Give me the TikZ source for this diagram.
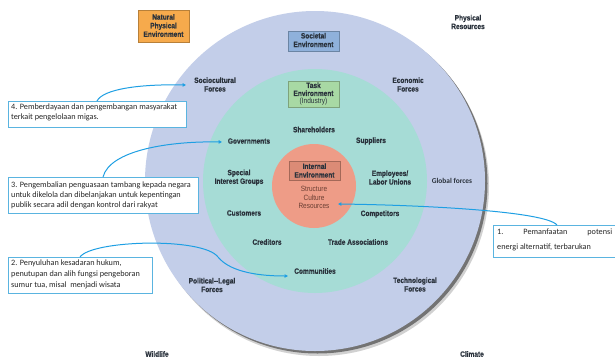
\documentclass[tikz,border=0pt]{standalone}
\usepackage{fontspec}
\usetikzlibrary{shadows,arrows.meta}
\newfontfamily\lblfont[FakeStretch=0.85,FakeBold=0.6]{Liberation Sans Bold}
\newfontfamily\lblreg[FakeStretch=0.85]{Liberation Sans}
\newfontfamily\calfont{Carlito}
\definecolor{outerc}{HTML}{C3CEE9}
\definecolor{tealc}{HTML}{A6DCD6}
\definecolor{salmonc}{HTML}{EE9C87}
\definecolor{orangec}{HTML}{F6AA4C}
\definecolor{societalc}{HTML}{8FB1DB}
\definecolor{taskc}{HTML}{A8D9A4}
\definecolor{internalc}{HTML}{DB8B76}
\definecolor{labelc}{HTML}{2A323C}
\definecolor{calloutc}{HTML}{5AB4E0}
\definecolor{arrowc}{HTML}{1E9FE3}
\definecolor{brownc}{HTML}{6A3E32}
\tikzset{
  lbl/.style={font=\lblfont\fontsize{7.7}{8.6}\selectfont, text=labelc, align=center, inner sep=0pt},
  plain/.style={font=\lblreg\fontsize{7.6}{8.6}\selectfont, text=brownc, align=center, inner sep=0pt},
  envbox/.style={draw=#1!75!black, fill=#1, line width=0.6pt, drop shadow={shadow xshift=1.2pt, shadow yshift=-1.2pt, opacity=0.45}},
  callout/.style={draw=calloutc, fill=white, line width=0.8pt},
  ctext/.style={font=\calfont\fontsize{8.2}{10}\selectfont, text=black!85, align=left, inner sep=0pt, anchor=north west},
  carrow/.style={draw=arrowc, line width=1pt, -{Triangle[length=3.4pt,width=3.4pt]}},
}
\begin{document}
\begin{tikzpicture}[x=1pt,y=-1pt]
\useasboundingbox (0,0) rectangle (615,362);
\fill[white] (0,0) rectangle (615,362);
% shadow of outer circle
\fill[black!18] (319,186) circle (170);
\fill[black!55] (317.5,183.5) circle (170);
% circles
\fill[outerc] (315,181) circle (170);
\fill[tealc] (315,181) circle (112);
\fill[salmonc] (314,186) circle (42);
% environment boxes
\draw[envbox=orangec] (138,10) rectangle (189,42);
\node[lbl] (natural) at (163.5,25.5) {Natural\\Physical\\Environment};
\draw[envbox=societalc] (288,31) rectangle (339,51);
\node[lbl] (societal) at (313.5,40) {Societal\\Environment};
\draw[envbox=taskc] (288,81) rectangle (339,107);
\node[lbl,font=\lblfont\fontsize{7.7}{8}\selectfont] (task) at (313.5,94) {Task\\Environment\\{\lblreg(Industry)}};
\draw[envbox=internalc] (289,161) rectangle (340,180);
\node[lbl] (internal) at (314.5,170.5) {Internal\\Environment};
\node[plain] (structure) at (314,197.5) {Structure\\Culture\\Resources};
% force labels
\node[lbl] (socio) at (215,84.5) {Sociocultural\\Forces};
\node[lbl] (econ) at (408,84.5) {Economic\\Forces};
\node[lbl] (physres) at (468,22) {Physical\\Resources};
\node[lbl] (polit) at (212,285) {Political--Legal\\Forces};
\node[lbl] (tech) at (415,284.5) {Technological\\Forces};
\node[lbl] (wild) at (157,354) {Wildlife};
\node[lbl] (climate) at (472,354) {Climate};
\node[font=\calfont\bfseries\fontsize{7.4}{8}\selectfont, text=labelc, inner sep=0pt] (global) at (452,181) {Global forces};
% task environment labels
\node[lbl] (share) at (314,129.5) {Shareholders};
\node[lbl] (gov) at (249,141) {Governments};
\node[lbl] (supp) at (371,141) {Suppliers};
\node[lbl] (special) at (239,177.5) {Special\\Interest Groups};
\node[lbl] (employ) at (390,177.5) {Employees/\\Labor Unions};
\node[lbl] (cust) at (244,213) {Customers};
\node[lbl] (comp) at (380,214) {Competitors};
\node[lbl] (cred) at (267,242) {Creditors};
\node[lbl] (trade) at (358,242) {Trade Associations};
\node[lbl] (comm) at (315,271) {Communities};
% callout boxes
\draw[callout] (8,101) rectangle (186,127);
\node[ctext] (c4) at (11,104) {4. Pemberdayaan dan pengembangan masyarakat\\terkait pengelolaan migas.};
\draw[callout] (8,177) rectangle (198,213);
\node[ctext] (c3) at (11,181.5) {3. Pengembalian penguasaan tambang kepada negara\\untuk dikelola dan dibelanjakan untuk kepentingan\\publik secara adil dengan kontrol dari rakyat};
\draw[callout] (8,257) rectangle (152,293);
\node[ctext,font=\calfont\fontsize{8.2}{11}\selectfont] (c2) at (11,259.5) {2. Penyuluhan kesadaran hukum,\\penutupan dan alih fungsi pengeboran\\sumur tua, misal\ \ menjadi wisata};
\draw[callout] (620,225) -- (493,225) -- (493,257) -- (620,257);
\node[ctext,font=\calfont\fontsize{8.2}{15}\selectfont] (c1) at (497,229) {\parbox[t]{115pt}{1.\hfill Pemanfaatan\hfill potensi\\energi alternatif, terbarukan}};
% arrows
\coordinate (s4) at (97,101);
\coordinate (t4) at (186,85);
\draw[carrow] (s4) .. controls (103,89) and (140,84) .. (t4);
\coordinate (s3) at (103,177);
\coordinate (t3) at (222,142);
\draw[carrow] (s3) .. controls (110,150) and (170,141) .. (t3);
\coordinate (s2) at (80,257);
\coordinate (m2) at (218,257);
\coordinate (t2) at (288,276);
\draw[carrow] (s2) .. controls (92,240) and (203,237) .. (m2) .. controls (231,273) and (262,276) .. (t2);
\coordinate (s1) at (557,225);
\coordinate (t1) at (338,204);
\draw[carrow] (s1) .. controls (545,211) and (420,205) .. (t1);
\end{tikzpicture}
\end{document}
